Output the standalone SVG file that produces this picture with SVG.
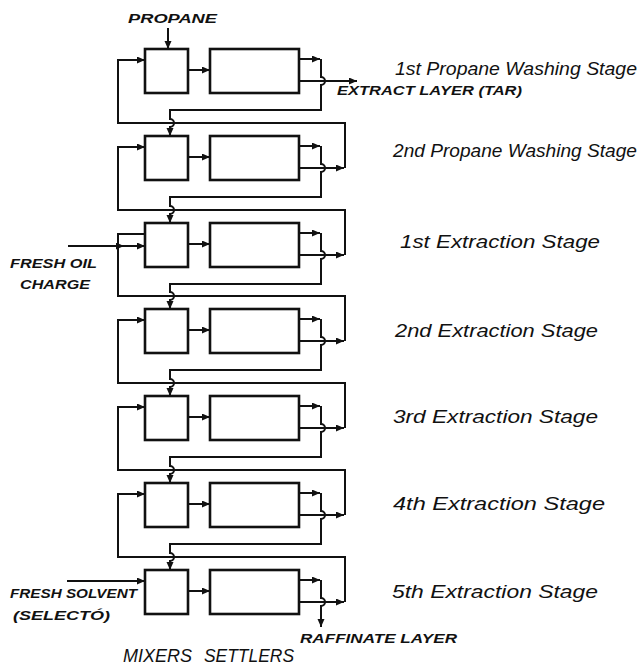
<svg xmlns="http://www.w3.org/2000/svg" width="643" height="670" viewBox="0 0 643 670">
<defs>
<marker id="ah" markerUnits="userSpaceOnUse" markerWidth="9" markerHeight="8" refX="8" refY="3.5" orient="auto">
<path d="M0,0 L8,3.5 L0,7 z" fill="#111"/>
</marker>
<style>
.box{fill:#fff;stroke:#111;stroke-width:2.6}
.ln{fill:none;stroke:#111;stroke-width:2}
.ar{fill:none;stroke:#111;stroke-width:2;marker-end:url(#ah)}
.stg{font-family:"Liberation Sans",Arial,sans-serif;font-style:italic;font-size:18px;fill:#111}
.cap{font-family:"Liberation Sans",Arial,sans-serif;font-style:italic;font-weight:bold;font-size:12px;fill:#111}
.big{font-family:"Liberation Sans",Arial,sans-serif;font-style:italic;font-size:19px;fill:#111}
</style>
</defs>
<rect width="643" height="670" fill="#fff"/>
<g id="connectors">
<path class="ar" d="M168,28 V49"/>
<path class="ar" d="M68,246 H124"/>
<path class="ar" d="M124,246 H145"/>
<path class="ar" d="M67,581 H145"/>
<!-- stage 1 -->
<path class="ar" d="M188,70 H210"/>
<path class="ar" d="M299,59 H320"/>
<path class="ar" d="M321,59 V77 a4,4 0 0 1 0,8 V110 H170 V119 a4,4 0 0 1 0,8 V136"/>
<path class="ar" d="M299,81 H357"/>
<!-- stage 2 -->
<path class="ar" d="M188,157 H210"/>
<path class="ar" d="M299,146 H320"/>
<path class="ar" d="M321,146 V164 a4,4 0 0 1 0,8 V197 H170 V206 a4,4 0 0 1 0,8 V223"/>
<path class="ar" d="M299,168 H344"/>
<path class="ar" d="M345,168 V123 H118 V60 H145"/>
<!-- stage 3 -->
<path class="ar" d="M188,244 H210"/>
<path class="ar" d="M299,233 H320"/>
<path class="ar" d="M321,233 V251 a4,4 0 0 1 0,8 V284 H170 V292 a4,4 0 0 1 0,8 V309"/>
<path class="ar" d="M299,255 H344"/>
<path class="ar" d="M345,255 V210 H118 V147 H145"/>
<!-- stage 4 -->
<path class="ar" d="M188,330 H210"/>
<path class="ar" d="M299,319 H320"/>
<path class="ar" d="M321,319 V337 a4,4 0 0 1 0,8 V370 H170 V379 a4,4 0 0 1 0,8 V396"/>
<path class="ar" d="M299,341 H344"/>
<path class="ln" d="M345,341 V296 H118 V234 H145"/>
<!-- stage 5 -->
<path class="ar" d="M188,417 H210"/>
<path class="ar" d="M299,406 H320"/>
<path class="ar" d="M321,406 V424 a4,4 0 0 1 0,8 V457 H170 V466 a4,4 0 0 1 0,8 V483"/>
<path class="ar" d="M299,428 H344"/>
<path class="ar" d="M345,428 V383 H118 V320 H145"/>
<!-- stage 6 -->
<path class="ar" d="M188,504 H210"/>
<path class="ar" d="M299,493 H320"/>
<path class="ar" d="M321,493 V511 a4,4 0 0 1 0,8 V544 H170 V553 a4,4 0 0 1 0,8 V570"/>
<path class="ar" d="M299,515 H344"/>
<path class="ar" d="M345,515 V470 H118 V407 H145"/>
<!-- stage 7 -->
<path class="ar" d="M188,591 H210"/>
<path class="ar" d="M299,580 H320"/>
<path class="ar" d="M321,580 V598 a4,4 0 0 1 0,8 V627"/>
<path class="ar" d="M299,602 H344"/>
<path class="ar" d="M345,602 V557 H118 V494 H145"/>
</g>
<g id="mixer1"><rect class="box" x="145" y="49" width="43" height="44"/></g>
<g id="settler1"><rect class="box" x="210" y="49" width="89" height="44"/></g>
<g id="mixer2"><rect class="box" x="145" y="136" width="43" height="44"/></g>
<g id="settler2"><rect class="box" x="210" y="136" width="89" height="44"/></g>
<g id="mixer3"><rect class="box" x="145" y="223" width="43" height="44"/></g>
<g id="settler3"><rect class="box" x="210" y="223" width="89" height="44"/></g>
<g id="mixer4"><rect class="box" x="145" y="309" width="43" height="44"/></g>
<g id="settler4"><rect class="box" x="210" y="309" width="89" height="44"/></g>
<g id="mixer5"><rect class="box" x="145" y="396" width="43" height="44"/></g>
<g id="settler5"><rect class="box" x="210" y="396" width="89" height="44"/></g>
<g id="mixer6"><rect class="box" x="145" y="483" width="43" height="44"/></g>
<g id="settler6"><rect class="box" x="210" y="483" width="89" height="44"/></g>
<g id="mixer7"><rect class="box" x="145" y="570" width="43" height="44"/></g>
<g id="settler7"><rect class="box" x="210" y="570" width="89" height="44"/></g>
<g id="stage-labels">
<text class="stg" x="395" y="75" textLength="242" lengthAdjust="spacingAndGlyphs">1st Propane Washing Stage</text>
<text class="stg" x="393" y="157" textLength="244" lengthAdjust="spacingAndGlyphs">2nd Propane Washing Stage</text>
<text class="stg" x="400" y="248" textLength="200" lengthAdjust="spacingAndGlyphs">1st Extraction Stage</text>
<text class="stg" x="395" y="337" textLength="203" lengthAdjust="spacingAndGlyphs">2nd Extraction Stage</text>
<text class="stg" x="393" y="423" textLength="205" lengthAdjust="spacingAndGlyphs">3rd Extraction Stage</text>
<text class="stg" x="393" y="510" textLength="212" lengthAdjust="spacingAndGlyphs">4th Extraction Stage</text>
<text class="stg" x="392" y="598" textLength="206" lengthAdjust="spacingAndGlyphs">5th Extraction Stage</text>
</g>
<g id="stream-labels">
<text class="cap" x="128" y="23" textLength="89" lengthAdjust="spacingAndGlyphs">PROPANE</text>
<text class="cap" x="337" y="95" textLength="185" lengthAdjust="spacingAndGlyphs">EXTRACT LAYER (TAR)</text>
<text class="cap" x="10" y="268" font-size="13" textLength="87" lengthAdjust="spacingAndGlyphs">FRESH OIL</text>
<text class="cap" x="20" y="289" font-size="13" textLength="70" lengthAdjust="spacingAndGlyphs">CHARGE</text>
<text class="cap" x="10" y="598" font-size="13" textLength="127" lengthAdjust="spacingAndGlyphs">FRESH SOLVENT</text>
<text class="cap" x="13" y="620" font-size="13" textLength="97" lengthAdjust="spacingAndGlyphs">(SELECTÓ)</text>
<text class="cap" x="300" y="643" textLength="157" lengthAdjust="spacingAndGlyphs">RAFFINATE LAYER</text>
<text class="big" x="123" y="662" textLength="69" lengthAdjust="spacingAndGlyphs">MIXERS</text>
<text class="big" x="204" y="662" textLength="90" lengthAdjust="spacingAndGlyphs">SETTLERS</text>
</g>
</svg>
